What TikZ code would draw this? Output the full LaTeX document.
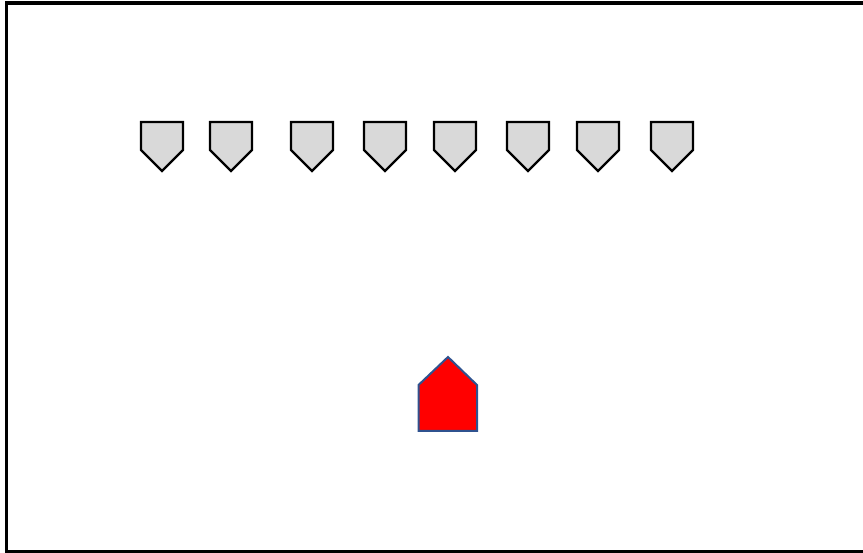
\documentclass[tikz,border=0pt]{standalone}
\usetikzlibrary{positioning}
\definecolor{shieldgray}{RGB}{217, 217, 217}
\definecolor{homeblue}{RGB}{47, 82, 143}
\definecolor{homered}{RGB}{255, 0, 0}

\begin{document}
\begin{tikzpicture}[x=1pt, y=-1pt,
  shield/.style={draw=black, fill=shieldgray, line width=2.3pt, line join=miter},
  home/.style={draw=homeblue, fill=homered, line width=2pt}]
  \useasboundingbox (0,0) rectangle (863,553);
  % frame, right edge runs off the page
  \draw[line width=3.5pt] (880,3) -- (6.5,3) -- (6.5,551.5) -- (880,551.5);
  % row of shields
  \foreach \cx in {162, 231, 312, 385, 455, 528, 598, 672} {
    \draw[shield] (\cx-21,122) -- (\cx+21,122) -- (\cx+21,150) -- (\cx,171) -- (\cx-21,150) -- cycle;
  }
  % red house
  \draw[home] (418.5,431) -- (418.5,385) -- (448,357) -- (477,385) -- (477,431) -- cycle;
\end{tikzpicture}
\end{document}
